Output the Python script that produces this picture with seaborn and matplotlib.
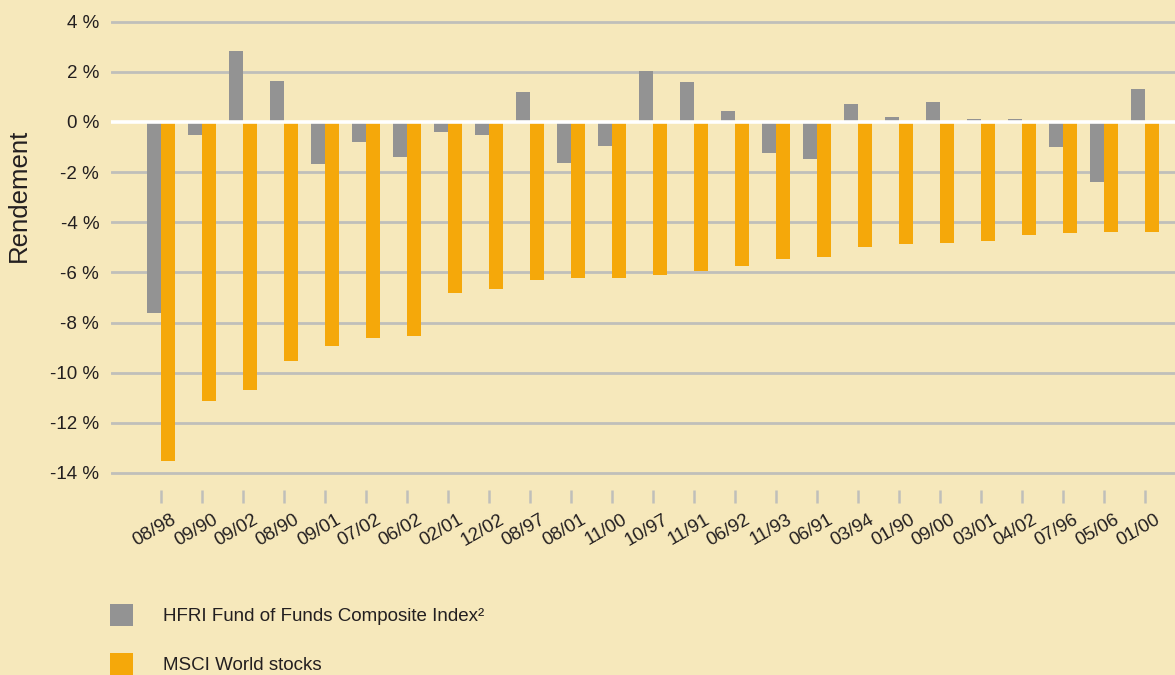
import matplotlib
matplotlib.use("Agg")
import matplotlib.pyplot as plt
import matplotlib.transforms as mtransforms
import seaborn as sns
import pandas as pd

# ---- data ----
periods = ["08/98", "09/90", "09/02", "08/90", "09/01", "07/02", "06/02", "02/01",
           "12/02", "08/97", "08/01", "11/00", "10/97", "11/91", "06/92", "11/93",
           "06/91", "03/94", "01/90", "09/00", "03/01", "04/02", "07/96", "05/06", "01/00"]
hfri = [-7.6, -0.52, 2.83, 1.64, -1.66, -0.8, -1.38, -0.4, -0.52, 1.2, -1.64, -0.96,
        2.03, 1.6, 0.44, -1.24, -1.48, 0.72, 0.2, 0.8, 0.1, 0.1, -1.0, -2.39, 1.32]
msci = [-13.51, -11.13, -10.69, -9.53, -8.93, -8.62, -8.54, -6.82, -6.66, -6.3, -6.22,
        -6.22, -6.1, -5.94, -5.74, -5.46, -5.39, -4.99, -4.87, -4.83, -4.75, -4.51,
        -4.43, -4.39, -4.39]
series_names = ["HFRI Fund of Funds Composite Index\u00b2", "MSCI World stocks"]
y_ticks = [4, 2, 0, -2, -4, -6, -8, -10, -12, -14]
y_tick_labels = ["4 %", "2 %", "0 %", "-2 %", "-4 %", "-6 %", "-8 %", "-10 %", "-12 %", "-14 %"]
y_label = "Rendement"

# ---- style ----
bg = "#f6e8bb"
grey = "#939393"
orange = "#f5a80a"
gridc = "#c0bfba"
textc = "#231f20"

sns.set_theme(style="white")
plt.rcParams["font.family"] = ["Liberation Sans", "DejaVu Sans"]

n = len(periods)
df = pd.DataFrame({
    "period": periods * 2,
    "value": hfri + msci,
    "series": [series_names[0]] * n + [series_names[1]] * n,
})

W, H = 1175, 675
fig = plt.figure(figsize=(W / 100, H / 100), dpi=100, facecolor=bg)
ax_left = 111
ax_top = 19.2
ax_bottom = 490
ax = fig.add_axes([ax_left / W, (H - ax_bottom) / H, 1 - ax_left / W, (ax_bottom - ax_top) / H])
ax.set_facecolor(bg)

sns.barplot(data=df, x="period", y="value", hue="series", order=periods,
            hue_order=series_names, palette=[grey, orange], width=28 / 41, gap=0,
            saturation=1, linewidth=0, ax=ax, zorder=2)

px_per_cat = 41
ax.set_xlim((ax_left - 161) / px_per_cat, (W - 161) / px_per_cat)
ax.set_ylim(-14.68, 4.1)

# grid lines
for t in y_ticks:
    if t != 0:
        ax.axhline(t, color=gridc, lw=2.0, zorder=1)
ax.axhline(0, color="white", lw=2.6, zorder=3)

for s in ax.spines.values():
    s.set_visible(False)

ax.set_yticks(y_ticks)
ax.set_yticklabels(y_tick_labels)
ax.tick_params(axis="y", left=False, length=0, pad=8.5, labelsize=13.5, labelcolor=textc)
ax.tick_params(axis="x", bottom=True, length=9, width=1.8, color=gridc, direction="out",
               pad=6, labelsize=13.5, labelcolor=textc)
ax.set_xlabel("")
ax.set_ylabel(y_label, fontsize=18.5, color=textc)
ax.yaxis.set_label_coords((31 - ax_left) / (W - ax_left), (ax_bottom - 195) / (ax_bottom - ax_top))

offset = mtransforms.ScaledTranslation(10 / 100, 0, fig.dpi_scale_trans)
for lab in ax.get_xticklabels():
    lab.set_rotation(30)
    lab.set_ha("right")
    lab.set_va("top")
    lab.set_rotation_mode("anchor")
    lab.set_transform(lab.get_transform() + offset)

sns.move_legend(ax, loc="upper left", bbox_to_anchor=(110 / W, 1 - 604 / H),
                bbox_transform=fig.transFigure, frameon=False, title=None,
                fontsize=13.5, handlelength=1.22, handleheight=1.45,
                handletextpad=1.6, labelspacing=1.4, borderpad=0, borderaxespad=0)
for t in ax.get_legend().get_texts():
    t.set_color(textc)

fig.savefig("out.png", dpi=100, facecolor=bg)
